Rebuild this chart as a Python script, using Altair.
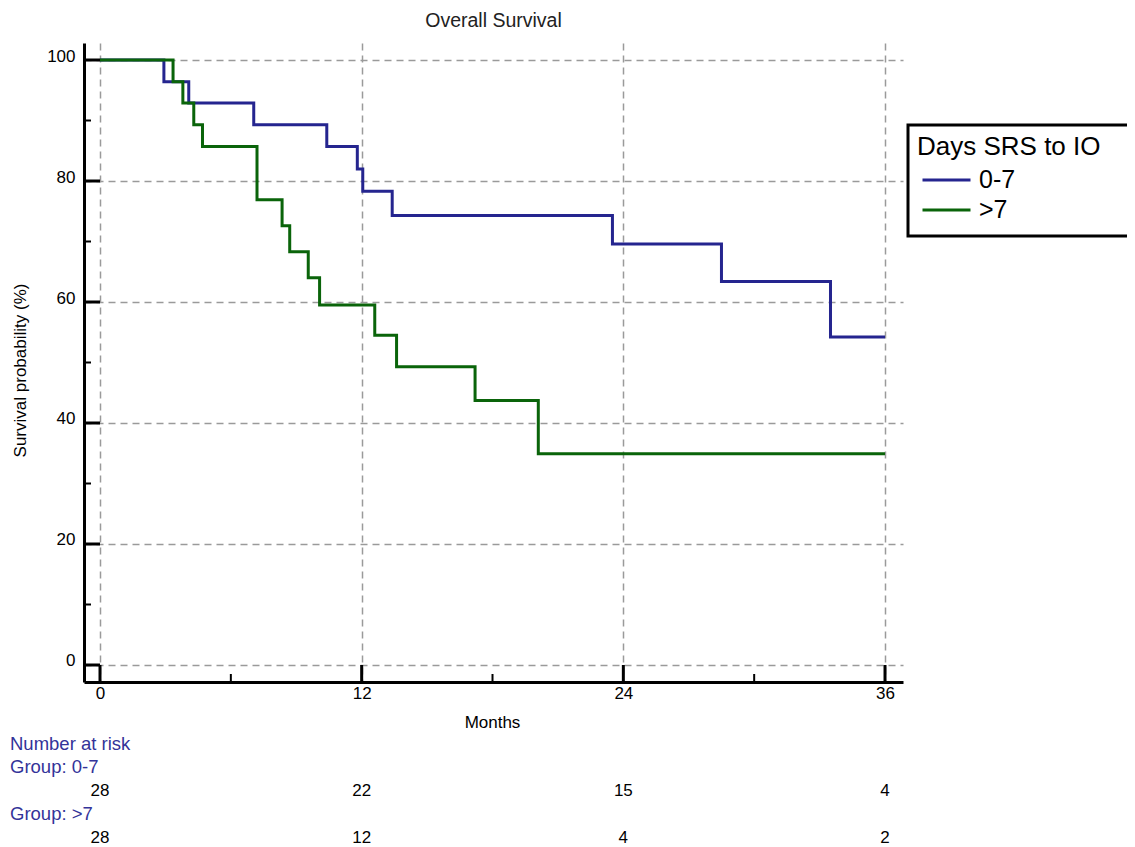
import altair as alt
import pandas as pd

# ---- data ----
groups = ["0-7", ">7"]
line_colors = ["#25258f", "#0a640a"]

months_0_7 = [0, 2.93, 4.07, 7.05, 10.4, 11.8, 12.05, 13.4, 23.5, 28.5, 33.5, 36]
surv_0_7 = [100, 96.4, 92.9, 89.3, 85.7, 82.0, 78.3, 74.3, 69.6, 63.4, 54.2, 54.2]

months_gt7 = [0, 3.35, 3.8, 4.3, 4.7, 7.2, 8.35, 8.7, 9.55, 10.07, 12.6, 13.6, 17.2, 20.1, 36]
surv_gt7 = [100, 96.4, 92.9, 89.3, 85.7, 76.9, 72.6, 68.3, 64.0, 59.5, 54.5, 49.3, 43.7, 34.9, 34.9]

x_ticks = [0, 12, 24, 36]
x_minor = [6, 18, 30]
y_ticks = [0, 20, 40, 60, 80, 100]
y_minor = [10, 30, 50, 70, 90]

risk_months = [0, 12, 24, 36]
risk_0_7 = [28, 22, 15, 4]
risk_gt7 = [28, 12, 4, 2]

# ---- layout ----
W, H = 819, 639
FONT = "Liberation Sans"

xs = alt.Scale(domain=[-0.734, 36.825], nice=False, zero=False)
ys = alt.Scale(domain=[-2.81, 102.81], nice=False, zero=False)

x_axis = alt.Axis(values=x_ticks, grid=True, ticks=False, tickSize=0, labelPadding=3,
                  labelFontSize=17, labelColor="black", domainColor="black", domainWidth=3,
                  title="Months", titleX=408, titleY=40, titleFontSize=17,
                  titleFontWeight="normal", titleColor="black", titleBaseline="middle",
                  titleAlign="center", gridColor="#9a9a9a", gridDash=[7, 5], gridWidth=1.5)
y_axis = alt.Axis(values=y_ticks, grid=True, ticks=False, tickSize=0, labelPadding=9,
                  labelOffset=-4, labelFontSize=17, labelColor="black", domainColor="black",
                  domainWidth=3, title="Survival probability (%)", titleX=-64, titleY=327,
                  titleAngle=270, titleFontSize=17, titleFontWeight="normal",
                  titleColor="black", titleBaseline="middle", titleAlign="center",
                  gridColor="#9a9a9a", gridDash=[7, 5], gridWidth=1.5)

X = lambda: alt.X("m:Q", scale=xs, axis=x_axis)
Y = lambda: alt.Y("s:Q", scale=ys, axis=y_axis)

legend = alt.Legend(title="Days SRS to IO", orient="none", legendX=824, legendY=82,
                    padding=9, titleFontSize=26, labelFontSize=25, titleFontWeight="normal",
                    titleColor="black", labelColor="black", titleFont=FONT, labelFont=FONT,
                    titleLimit=400, labelLimit=300,
                    symbolType="stroke", symbolSize=2304, symbolStrokeWidth=3,
                    symbolOffset=4, labelOffset=7, clipHeight=30, rowPadding=0,
                    titlePadding=5)
color = alt.Color("group:N", scale=alt.Scale(domain=groups, range=line_colors), legend=legend)

df_a = pd.DataFrame({"m": months_0_7, "s": surv_0_7, "group": groups[0]})
df_b = pd.DataFrame({"m": months_gt7, "s": surv_gt7, "group": groups[1]})

line_a = alt.Chart(df_a).mark_line(interpolate="step-after", strokeWidth=3).encode(x=X(), y=Y(), color=color)
line_b = alt.Chart(df_b).mark_line(interpolate="step-after", strokeWidth=3).encode(x=X(), y=Y(), color=color)

# inward tick marks
xt_major = alt.Chart(pd.DataFrame({"m": x_ticks})).mark_rule(color="black", strokeWidth=3).encode(
    x=X(), y=alt.value(H), y2=alt.value(H - 17))
xt_minor = alt.Chart(pd.DataFrame({"m": x_minor})).mark_rule(color="black", strokeWidth=2).encode(
    x=X(), y=alt.value(H), y2=alt.value(H - 8))
yt_major = alt.Chart(pd.DataFrame({"s": y_ticks})).mark_rule(color="black", strokeWidth=3).encode(
    y=Y(), x=alt.value(0), x2=alt.value(16))
yt_minor = alt.Chart(pd.DataFrame({"s": y_minor})).mark_rule(color="black", strokeWidth=2).encode(
    y=Y(), x=alt.value(0), x2=alt.value(7))

# legend frame (right side runs off the page, as in the reference)
frame = alt.Chart(pd.DataFrame({"k": [0]})).mark_rect(filled=False, stroke="black", strokeWidth=3).encode(
    x=alt.value(824), x2=alt.value(1070), y=alt.value(82), y2=alt.value(193))

# number-at-risk table
LBL = "#333399"
def label(txt, ypix):
    return alt.Chart(pd.DataFrame({"t": [txt]})).mark_text(
        align="left", baseline="middle", fontSize=18.5, color=LBL, font=FONT).encode(
        text="t:N", x=alt.value(-74), y=alt.value(ypix))

def row(values, ypix):
    return alt.Chart(pd.DataFrame({"m": risk_months, "n": values})).mark_text(
        align="center", baseline="middle", fontSize=17, color="black", font=FONT).encode(
        x=X(), text="n:Q", y=alt.value(ypix))

chart = alt.layer(
    line_a, line_b, xt_major, xt_minor, yt_major, yt_minor, frame,
    label("Number at risk", 701), label("Group: 0-7", 724), row(risk_0_7, 748),
    label("Group: >7", 771), row(risk_gt7, 795),
).properties(
    width=W, height=H,
    title=alt.TitleParams("Overall Survival", fontSize=19.5, fontWeight="normal", color="#222222",
                          anchor="middle", frame="group", offset=12, font=FONT),
    autosize=alt.AutoSizeParams(type="none"),
    padding={"left": 76, "top": 35, "right": 224, "bottom": 167},
).configure(font=FONT).configure_view(stroke=None)

chart.save("out.html", embed_options={"renderer": "svg", "actions": False})
